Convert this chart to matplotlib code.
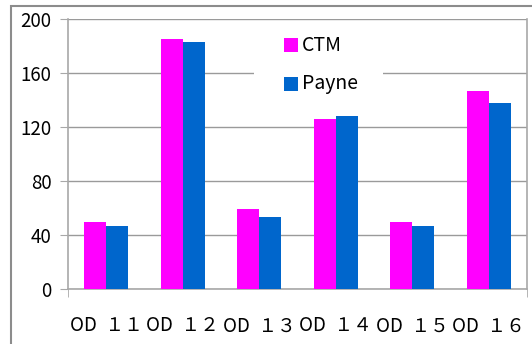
import matplotlib
matplotlib.use("Agg")
import matplotlib.pyplot as plt
from matplotlib.patches import Rectangle
import numpy as np

plt.rcParams['font.family'] = ['Noto Sans CJK JP', 'DejaVu Sans']

categories = ["OD  １１", "OD  １２", "OD  １３", "OD  １４", "OD  １５", "OD  １６"]
series_names = ["CTM", "Payne"]
ctm = [50, 185, 59, 126, 50, 147]
payne = [47, 183, 53, 128, 47, 138]
y_ticks = [0, 40, 80, 120, 160, 200]

ctm_color = "#FF00FF"
payne_color = "#0066CC"
grid_color = "#9a9a9a"
axis_color = "#a8a8a8"

W, H = 532, 344
fig = plt.figure(figsize=(W / 100, H / 100), dpi=100)
fig.patch.set_facecolor("white")

# outer chart frame (only top and left edges fall inside the image)
fig.add_artist(Rectangle((11 / W, -0.2), 1.2, 1.2 - 6 / H,
                         transform=fig.transFigure, fill=False,
                         edgecolor="#8c8c8c", linewidth=1.5))

L, R, T, B = 68, 527, 19, 289
ax = fig.add_axes([L / W, (H - B) / H, (R - L) / W, (B - T) / H])
x = np.arange(len(categories))
w = 0.288
ax.bar(x - w / 2, ctm, width=w, color=ctm_color, zorder=3)
ax.bar(x + w / 2, payne, width=w, color=payne_color, zorder=3)

ax.set_xlim(-0.5, len(categories) - 0.5)
ax.set_ylim(0, 200)
ax.set_yticks(y_ticks)
ax.set_yticklabels([str(v) for v in y_ticks], fontsize=13.5)
ax.yaxis.grid(True, color=grid_color, linewidth=1.0, zorder=0)
ax.set_axisbelow(True)

ax.set_xticks(x)
ax.set_xticklabels(categories, fontsize=13.5)
ax.set_xticks([-0.5, len(categories) - 0.5], minor=True)
ax.tick_params(axis="x", which="major", length=0, pad=19)
ax.tick_params(axis="x", which="minor", length=6, color=axis_color, direction="out")
ax.tick_params(axis="y", length=6, color=axis_color, pad=6)

for side in ("left", "right", "bottom", "top"):
    ax.spines[side].set_color(axis_color)
    ax.spines[side].set_linewidth(1.2)
ax.spines["top"].set_visible(False)


# legend: white panel with square swatches, laid out in pixel terms
def ax_xy(px, py):
    return (px - L) / (R - L), (B - py) / (B - T)


x0, y0 = ax_xy(254, 105)
x1, y1 = ax_xy(383, 25)
ax.add_patch(Rectangle((x0, y0), x1 - x0, y1 - y0, transform=ax.transAxes,
                       facecolor="white", edgecolor="none", zorder=4))
for name, color, top in zip(series_names, [ctm_color, payne_color], [38, 77]):
    sx0, sy0 = ax_xy(284, top + 14)
    sx1, sy1 = ax_xy(298, top)
    ax.add_patch(Rectangle((sx0, sy0), sx1 - sx0, sy1 - sy0, transform=ax.transAxes,
                           facecolor=color, edgecolor="none", zorder=5))
    tx, ty = ax_xy(302, top + 7)
    ax.text(tx, ty, name, transform=ax.transAxes, fontsize=14,
            ha="left", va="center", zorder=6)

fig.savefig("out.png", dpi=100, facecolor="white")
